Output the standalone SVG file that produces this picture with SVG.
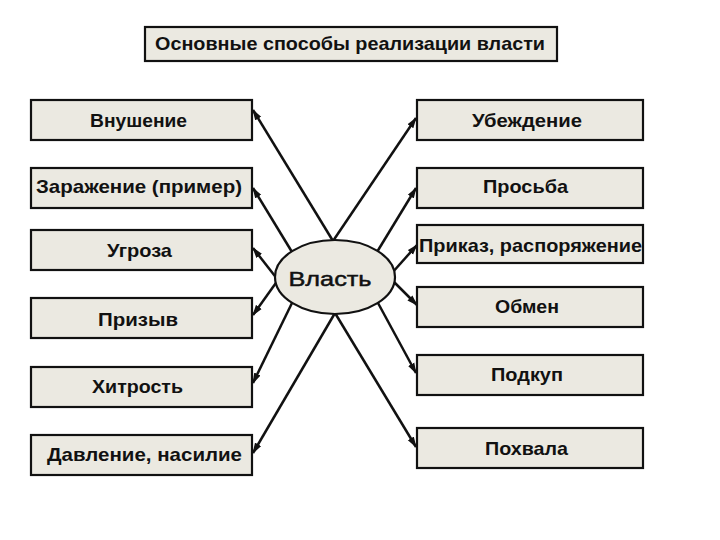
<svg xmlns="http://www.w3.org/2000/svg" width="720" height="540" viewBox="0 0 720 540">
  <style>
    .box { fill: #ebe9e1; stroke: #111; stroke-width: 2.2; }
    .lbl { font-family: "Liberation Sans", Arial, sans-serif; font-weight: bold; font-size: 19px; fill: #111; text-anchor: middle; }
    .ttl { font-size: 19px; }
    .conn line { stroke: #111; stroke-width: 2.5; marker-end: url(#arr); }
  </style>
  <defs>
    <marker id="arr" markerUnits="userSpaceOnUse" markerWidth="11" markerHeight="8" refX="10" refY="4" orient="auto">
      <path d="M0,0.5 L11,4 L0,7.5 z" fill="#111"/>
    </marker>
  </defs>
  <rect width="720" height="540" fill="#fff"/>

  <g id="title">
    <rect class="box" x="145" y="27" width="412" height="34"/>
    <text class="lbl ttl" x="350" y="50" textLength="390" lengthAdjust="spacingAndGlyphs">Основные способы реализации власти</text>
  </g>

  <g class="conn" id="connectors">
    <line x1="333" y1="241" x2="253" y2="110"/>
    <line x1="333" y1="241" x2="416" y2="118"/>
    <line x1="292" y1="252" x2="253" y2="188"/>
    <line x1="377" y1="252" x2="416" y2="188"/>
    <line x1="278" y1="280" x2="253" y2="248"/>
    <line x1="392" y1="273" x2="417" y2="245"/>
    <line x1="278" y1="280" x2="253" y2="315"/>
    <line x1="392" y1="280" x2="417" y2="305"/>
    <line x1="292" y1="303" x2="253" y2="383"/>
    <line x1="378" y1="303" x2="416" y2="373"/>
    <line x1="335" y1="313" x2="253" y2="453"/>
    <line x1="335" y1="313" x2="416" y2="447"/>
  </g>

  <g id="vlast">
    <ellipse class="box" cx="335" cy="277" rx="60" ry="37"/>
    <text class="lbl" x="330" y="286" textLength="83" lengthAdjust="spacingAndGlyphs" style="font-size:21px;font-weight:normal;stroke:#111;stroke-width:0.5">Власть</text>
  </g>

  <g id="vnushenie">
    <rect class="box" x="31" y="100" width="221" height="40"/>
    <text class="lbl" x="138.5" y="127" textLength="97" lengthAdjust="spacingAndGlyphs">Внушение</text>
  </g>
  <g id="zarazhenie">
    <rect class="box" x="31" y="168" width="221" height="40"/>
    <text class="lbl" x="139" y="193" textLength="206" lengthAdjust="spacingAndGlyphs">Заражение (пример)</text>
  </g>
  <g id="ugroza">
    <rect class="box" x="31" y="230" width="221" height="40"/>
    <text class="lbl" x="139.5" y="257" textLength="65" lengthAdjust="spacingAndGlyphs">Угроза</text>
  </g>
  <g id="prizyv">
    <rect class="box" x="31" y="298" width="221" height="40"/>
    <text class="lbl" x="138" y="326" textLength="80" lengthAdjust="spacingAndGlyphs">Призыв</text>
  </g>
  <g id="hitrost">
    <rect class="box" x="31" y="367" width="221" height="40"/>
    <text class="lbl" x="137.5" y="393" textLength="91" lengthAdjust="spacingAndGlyphs">Хитрость</text>
  </g>
  <g id="davlenie">
    <rect class="box" x="31" y="435" width="221" height="40"/>
    <text class="lbl" x="144.5" y="461" textLength="195" lengthAdjust="spacingAndGlyphs">Давление, насилие</text>
  </g>

  <g id="ubezhdenie">
    <rect class="box" x="417" y="100" width="226" height="40"/>
    <text class="lbl" x="527" y="127" textLength="110" lengthAdjust="spacingAndGlyphs">Убеждение</text>
  </g>
  <g id="prosba">
    <rect class="box" x="417" y="168" width="226" height="40"/>
    <text class="lbl" x="525.5" y="193" textLength="85" lengthAdjust="spacingAndGlyphs">Просьба</text>
  </g>
  <g id="prikaz">
    <rect class="box" x="417" y="225" width="226" height="38"/>
    <text class="lbl" x="530.5" y="252" textLength="223" lengthAdjust="spacingAndGlyphs">Приказ, распоряжение</text>
  </g>
  <g id="obmen">
    <rect class="box" x="417" y="287" width="226" height="40"/>
    <text class="lbl" x="527" y="313" textLength="64" lengthAdjust="spacingAndGlyphs">Обмен</text>
  </g>
  <g id="podkup">
    <rect class="box" x="417" y="355" width="226" height="40"/>
    <text class="lbl" x="527" y="381" textLength="72" lengthAdjust="spacingAndGlyphs">Подкуп</text>
  </g>
  <g id="pohvala">
    <rect class="box" x="417" y="428" width="226" height="40"/>
    <text class="lbl" x="526.5" y="455" textLength="83" lengthAdjust="spacingAndGlyphs">Похвала</text>
  </g>
</svg>
